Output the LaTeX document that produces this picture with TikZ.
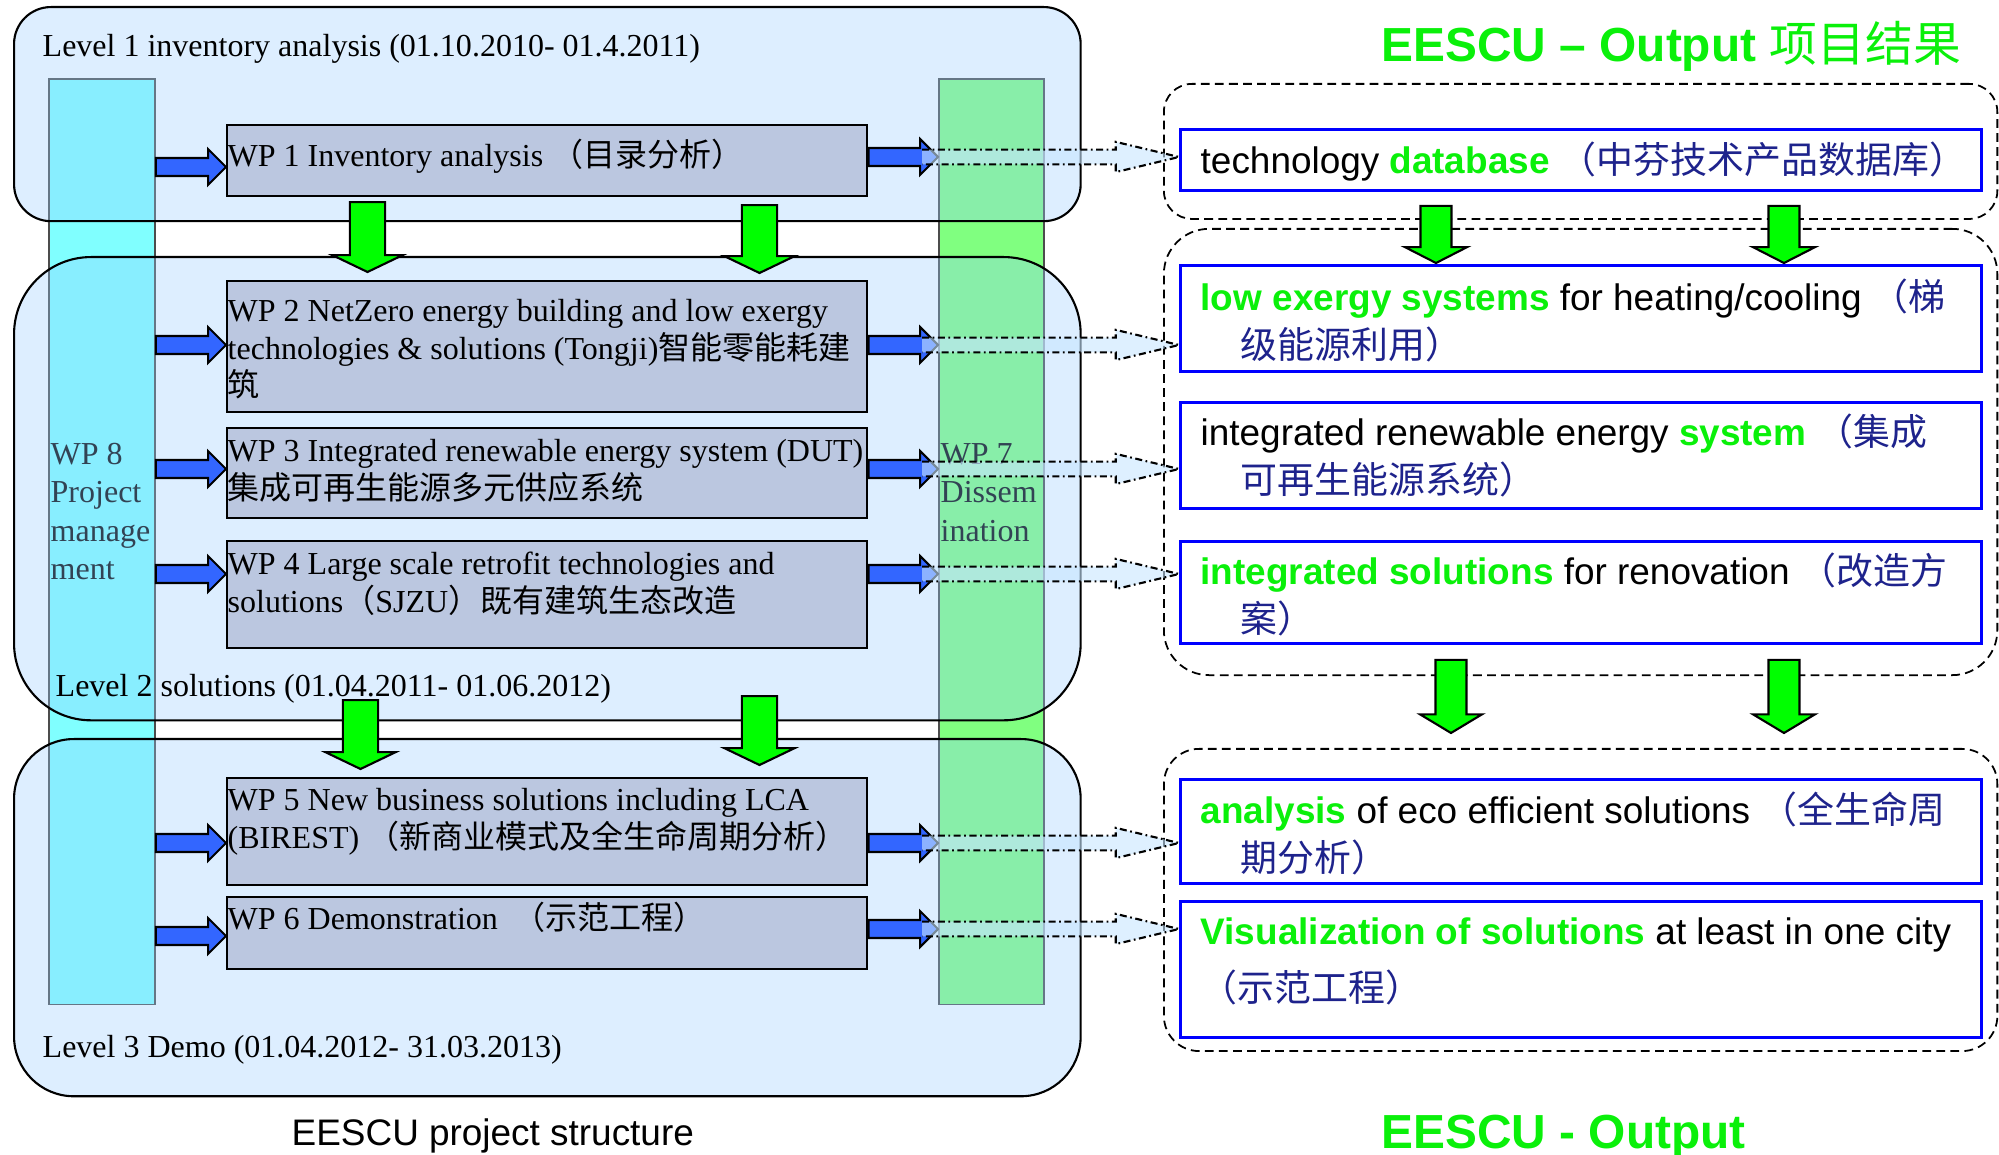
\documentclass[tikz,border=0pt]{standalone}
\usepackage{fontspec}
\setmainfont{Liberation Serif}
\setsansfont{Liberation Sans}
\newfontfamily\cjk{Noto Sans CJK SC}
\usetikzlibrary{calc}

\definecolor{lvfill}{RGB}{153,204,255}
\definecolor{pmcyan}{RGB}{128,255,255}
\definecolor{dsgreen}{RGB}{128,255,128}
\definecolor{wpfill}{RGB}{187,199,224}
\definecolor{wpblue}{RGB}{51,102,255}
\definecolor{flowgreen}{RGB}{0,255,0}
\definecolor{keygreen}{RGB}{10,240,10}
\definecolor{outblue}{RGB}{0,0,255}
\definecolor{cnnavy}{RGB}{30,35,140}
\definecolor{linkfill}{RGB}{200,230,255}

\newcommand{\keyw}[1]{\textbf{\color{keygreen}#1}}
\newcommand{\zh}[1]{{\cjk\color{cnnavy}#1}}

\newcommand{\blockright}[6][]{%
  \draw[#1] let \p1=#2, \p2=#3 in
    (\x1,\y1+#4) -- (\x2-#6,\y1+#4) -- (\x2-#6,\y1+#5) -- (\x2,\y1)
    -- (\x2-#6,\y1-#5) -- (\x2-#6,\y1-#4) -- (\x1,\y1-#4) -- cycle;}
\newcommand{\blockdown}[6][]{%
  \draw[#1] let \p1=#2, \p2=#3 in
    (\x1-#4,\y1) -- (\x1-#4,\y2+#6) -- (\x1-#5,\y2+#6) -- (\x1,\y2)
    -- (\x1+#5,\y2+#6) -- (\x1+#4,\y2+#6) -- (\x1+#4,\y1) -- cycle;}
\newcommand{\blocklink}[2]{%
  \fill[linkfill, fill opacity=0.6] let \p1=#1, \p2=#2 in
    (\x1,\y1+2.1pt) -- (\x2-18pt,\y1+2.1pt) -- (\x2-18pt,\y1+4.3pt) -- (\x2,\y1)
    -- (\x2-18pt,\y1-4.3pt) -- (\x2-18pt,\y1-2.1pt) -- (\x1,\y1-2.1pt) -- cycle;
  \draw[line width=0.6pt, dash pattern=on 2pt off 1pt on 0.5pt off 1pt] let \p1=#1, \p2=#2 in
    (\x1,\y1+2.1pt) -- (\x2-18pt,\y1+2.1pt) -- (\x2-18pt,\y1+4.3pt) -- (\x2,\y1)
    -- (\x2-18pt,\y1-4.3pt) -- (\x2-18pt,\y1-2.1pt) -- (\x1,\y1-2.1pt);}

\begin{document}
\begin{tikzpicture}[x=0.01cm, y=-0.01cm,
  wpcol/.style={draw=black!70, line width=0.5pt, anchor=north west, inner sep=0pt, minimum height=9.25cm},
  lvbox/.style={draw, line width=0.6pt, fill=lvfill, fill opacity=0.33, anchor=north west, inner sep=0pt, minimum width=10.66cm},
  wpbox/.style={draw, line width=0.6pt, fill=wpfill, anchor=north west, inner sep=0pt, minimum width=6.4cm},
  wptext/.style={anchor=north west, inner sep=0pt, align=left, font=\fontsize{9.1}{10.7}\selectfont},
  coltext/.style={wptext, font=\fontsize{9.1}{10.9}\selectfont},
  lvlabel/.style={anchor=base west, inner sep=0pt, font=\fontsize{9.1}{10.7}\selectfont},
  outgroup/.style={draw, line width=0.5pt, dash pattern=on 2.5pt off 1.5pt, anchor=north west, inner sep=0pt, minimum width=8.33cm},
  outbox/.style={draw=outblue, line width=0.8pt, fill=white, anchor=north west, inner sep=0pt, minimum width=8.01cm},
  outtext/.style={anchor=north west, inner sep=0pt, align=left, font=\sffamily\fontsize{10.5}{13.7}\selectfont},
  headline/.style={anchor=base west, inner sep=0pt, text=keygreen, font=\sffamily\bfseries\fontsize{13.6}{16}\selectfont},
  blueflow/.style={fill=wpblue, draw, line width=0.6pt},
  greenflow/.style={fill=flowgreen, draw, line width=0.6pt}]
  \useasboundingbox (0,0) rectangle (1999,1155);

  \node[wpcol, fill=pmcyan, minimum width=1.06cm] (wp8) at (48,78) {};
  \node[wpcol, fill=dsgreen, minimum width=1.05cm] (wp7) at (938,78) {};
  \node[coltext] (wp8txt) at (50,435) {\rule{0pt}{8.2pt}WP 8\\Project\\manage\\ment};
  \node[coltext] (wp7txt) at (940,435) {\rule{0pt}{8.2pt}WP 7\\Dissem\\ination};

  \node[lvbox, minimum height=2.14cm, rounded corners=10.5pt] (lv1) at (13,6) {};
  \node[lvbox, minimum height=4.63cm, rounded corners=21.9pt] (lv2) at (13,256) {};
  \node[lvbox, minimum height=3.57cm, rounded corners=17pt] (lv3) at (13,738) {};
  \node[lvlabel] (lv1txt) at (42,57) {Level 1 inventory analysis (01.10.2010- 01.4.2011)};
  \node[lvlabel] (lv2txt) at (55,696) {Level 2 solutions (01.04.2011- 01.06.2012)};
  \node[lvlabel] (lv3txt) at (42,1057) {Level 3 Demo (01.04.2012- 31.03.2013)};

  \node[wpbox, minimum height=0.71cm] (wp1) at (226,124) {};
  \node[wpbox, minimum height=1.31cm] (wp2) at (226,280) {};
  \node[wpbox, minimum height=0.90cm] (wp3) at (226,427) {};
  \node[wpbox, minimum height=1.07cm] (wp4) at (226,540) {};
  \node[wpbox, minimum height=1.07cm] (wp5) at (226,777) {};
  \node[wpbox, minimum height=0.72cm] (wp6) at (226,896) {};
  \node[wptext] (wp1txt) at (227,137) {\rule{0pt}{8.2pt}WP 1 Inventory analysis {\cjk （目录分析）}};
  \node[wptext] (wp2txt) at (227,292) {\rule{0pt}{8.2pt}WP 2 NetZero energy building and low exergy\\technologies \& solutions (Tongji){\cjk 智能零能耗建}\\{\cjk 筑}};
  \node[wptext] (wp3txt) at (227,432) {\rule{0pt}{8.2pt}WP 3 Integrated renewable energy system (DUT)\\{\cjk 集成可再生能源多元供应系统}};
  \node[wptext] (wp4txt) at (227,545) {\rule{0pt}{8.2pt}WP 4 Large scale retrofit technologies and\\solutions{\cjk （}SJZU{\cjk ）既有建筑生态改造}};
  \node[wptext] (wp5txt) at (227,781) {\rule{0pt}{8.2pt}WP 5 New business solutions including LCA\\(BIREST) {\cjk （新商业模式及全生命周期分析）}};
  \node[wptext] (wp6txt) at (227,900) {\rule{0pt}{8.2pt}WP 6 Demonstration~~{\cjk （示范工程）}};

  \blockright[blueflow]{(wp8.east |- 0,167)}{(wp1.west |- 0,167)}{2.56pt}{5.1pt}{5.1pt}
  \blockright[blueflow]{(wp8.east |- 0,345)}{(wp2.west |- 0,345)}{2.56pt}{5.1pt}{5.1pt}
  \blockright[blueflow]{(wp8.east |- 0,469)}{(wp3.west |- 0,469)}{2.56pt}{5.1pt}{5.1pt}
  \blockright[blueflow]{(wp8.east |- 0,574)}{(wp4.west |- 0,574)}{2.56pt}{5.1pt}{5.1pt}
  \blockright[blueflow]{(wp8.east |- 0,843)}{(wp5.west |- 0,843)}{2.56pt}{5.1pt}{5.1pt}
  \blockright[blueflow]{(wp8.east |- 0,936)}{(wp6.west |- 0,936)}{2.56pt}{5.1pt}{5.1pt}
  \blockright[blueflow]{(wp1.east |- 0,157)}{(wp7.west |- 0,157)}{2.56pt}{5.1pt}{5.1pt}
  \blockright[blueflow]{(wp2.east |- 0,345)}{(wp7.west |- 0,345)}{2.56pt}{5.1pt}{5.1pt}
  \blockright[blueflow]{(wp3.east |- 0,469)}{(wp7.west |- 0,469)}{2.56pt}{5.1pt}{5.1pt}
  \blockright[blueflow]{(wp4.east |- 0,574)}{(wp7.west |- 0,574)}{2.56pt}{5.1pt}{5.1pt}
  \blockright[blueflow]{(wp5.east |- 0,843)}{(wp7.west |- 0,843)}{2.56pt}{5.1pt}{5.1pt}
  \blockright[blueflow]{(wp6.east |- 0,929)}{(wp7.west |- 0,929)}{2.56pt}{5.1pt}{5.1pt}

  \blockdown[greenflow]{($(wp1.south west)+(141.5,5)$)}{($(wp2.north west)+(141.5,-8)$)}{5pt}{10pt}{4.8pt}
  \blockdown[greenflow]{($(wp1.south west)+(533.5,8)$)}{($(wp2.north west)+(533.5,-7)$)}{5pt}{10pt}{4.8pt}
  \blockdown[greenflow]{($(wp4.south west)+(134.5,51)$)}{($(wp5.north west)+(134.5,-8)$)}{5pt}{10pt}{4.8pt}
  \blockdown[greenflow]{($(wp4.south west)+(533.5,47)$)}{($(wp5.north west)+(533.5,-12)$)}{5pt}{10pt}{4.8pt}

  \node[outgroup, minimum height=1.35cm, rounded corners=8pt] (grpa) at (1163,83) {};
  \node[outgroup, minimum height=4.46cm, rounded corners=12.8pt] (grpb) at (1163,228) {};
  \node[outgroup, minimum height=3.02cm, rounded corners=10pt] (grpc) at (1163,748) {};

  \node[outbox, minimum height=0.61cm] (o1) at (1179,128) {};
  \node[outbox, minimum height=1.06cm] (o2) at (1179,264) {};
  \node[outbox, minimum height=1.06cm] (o3) at (1179,401) {};
  \node[outbox, minimum height=1.02cm] (o4) at (1179,540) {};
  \node[outbox, minimum height=1.04cm] (o5) at (1179,778) {};
  \node[outbox, minimum height=1.36cm] (o6) at (1179,900) {};
  \node[outtext] (o1txt) at (1200,139) {\rule{0pt}{9.6pt}technology \keyw{database} \zh{（中芬技术产品数据库）}};
  \node[outtext] (o2txt) at (1200,276) {\rule{0pt}{9.6pt}\keyw{low exergy systems} for heating/cooling \zh{（梯}\\\hspace*{11.4pt}\zh{级能源利用）}};
  \node[outtext] (o3txt) at (1200,411) {\rule{0pt}{9.6pt}integrated renewable energy \keyw{system} \zh{（集成}\\\hspace*{11.4pt}\zh{可再生能源系统）}};
  \node[outtext] (o4txt) at (1200,550) {\rule{0pt}{9.6pt}\keyw{integrated solutions} for renovation \zh{（改造方}\\\hspace*{11.4pt}\zh{案）}};
  \node[outtext] (o5txt) at (1200,789) {\rule{0pt}{9.6pt}\keyw{analysis} of eco efficient solutions \zh{（全生命周}\\\hspace*{11.4pt}\zh{期分析）}};
  \node[outtext] (o6txt) at (1200,910) {\rule{0pt}{9.6pt}\keyw{Visualization of solutions} at least in one city\\[2.5pt]\zh{（示范工程）}};

  \blockdown[greenflow]{($(o1.south west)+(257,14)$)}{($(o2.north west)+(257,-1)$)}{4.4pt}{8.8pt}{4.5pt}
  \blockdown[greenflow]{($(o1.south west)+(605,14)$)}{($(o2.north west)+(605,-1)$)}{4.4pt}{8.8pt}{4.5pt}
  \blockdown[greenflow]{($(o4.south west)+(272,15)$)}{($(o5.north west)+(272,-45)$)}{4.4pt}{8.8pt}{5.3pt}
  \blockdown[greenflow]{($(o4.south west)+(605,15)$)}{($(o5.north west)+(605,-45)$)}{4.4pt}{8.8pt}{5.3pt}

  \blocklink{($(wp7.west |- 0,157)+(-16,0)$)}{(o1.west |- 0,157)}
  \blocklink{($(wp7.west |- 0,345)+(-16,0)$)}{(o2.west |- 0,345)}
  \blocklink{($(wp7.west |- 0,469)+(-16,0)$)}{(o3.west |- 0,469)}
  \blocklink{($(wp7.west |- 0,574)+(-16,0)$)}{(o4.west |- 0,574)}
  \blocklink{($(wp7.west |- 0,843)+(-16,0)$)}{(o5.west |- 0,843)}
  \blocklink{($(wp7.west |- 0,929)+(-16,0)$)}{(o6.west |- 0,929)}

  \node[headline] (outtitle) at (1381,62) {EESCU -- Output {\mdseries\cjk 项目结果}};
  \node[headline] (outfoot) at (1381,1148) {EESCU - Output};
  \node[anchor=base west, inner sep=0pt, font=\sffamily\fontsize{10.5}{12}\selectfont] (structcap) at (291,1145) {EESCU project structure};
\end{tikzpicture}
\end{document}
